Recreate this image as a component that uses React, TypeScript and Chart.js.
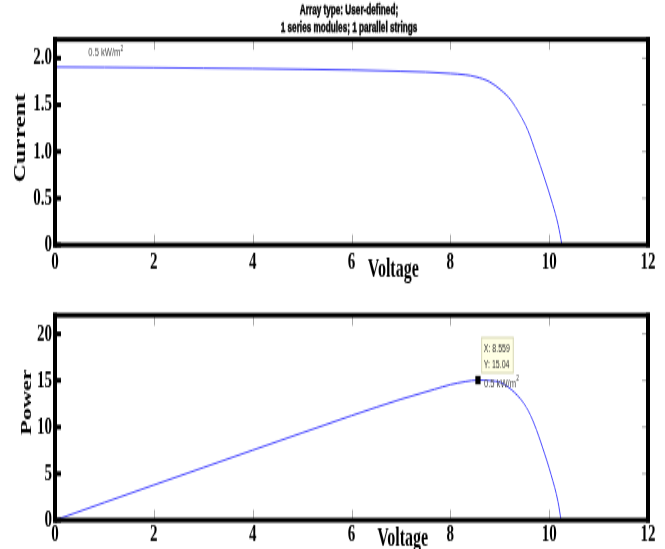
import React, { useEffect, useRef } from 'react';
import { Chart, registerables } from 'chart.js';

Chart.register(...registerables);

// ---------------- data ----------------
const titleLines = ['Array type: User-defined;', '1 series modules; 1 parallel strings'];
const xAxisTitle = 'Voltage';
const topYAxisTitle = 'Current';
const bottomYAxisTitle = 'Power';
const irradianceText = '0.5 kW/m';
const irradianceSup = '2';

const voltageTicks = [0, 2, 4, 6, 8, 10, 12];
const voltageTickLabels = ['0', '2', '4', '6', '8', '10', '12'];
const currentTicks = [0, 0.5, 1, 1.5, 2];
const currentTickLabels = ['0', '0.5', '1.0', '1.5', '2.0'];
const powerTicks = [0, 5, 10, 15, 20];
const powerTickLabels = ['0', '5', '10', '15', '20'];

const ivVoltage = [0, 1, 2, 3, 4, 5, 6, 7, 7.5, 8, 8.3, 8.52, 8.79, 9.03, 9.23, 9.4, 9.57, 9.74, 9.9, 10.07, 10.18, 10.26];
const ivCurrent = [1.905, 1.902, 1.898, 1.893, 1.888, 1.881, 1.873, 1.86, 1.851, 1.836, 1.822, 1.8, 1.748, 1.656, 1.548, 1.405, 1.226, 0.975, 0.724, 0.437, 0.22, 0];

const pvVoltage = [0, 1, 2, 3, 4, 5, 6, 7, 7.68, 8, 8.3, 8.559, 8.8, 9.03, 9.3, 9.54, 9.7, 9.87, 10.04, 10.18, 10.24];
const pvPower = [0, 1.9, 3.78, 5.65, 7.52, 9.38, 11.22, 12.98, 14.05, 14.55, 14.87, 15.04, 14.98, 14.75, 13.7, 12.1, 10.3, 7.75, 4.86, 1.96, 0];

const mppVoltage = [8.559];
const mppPower = [15.04];

// ---------------- layout / style ----------------
const W = 665;
const SY = 1.6; // vertical stretch of the picture
const TOP_H = 185;
const BOT_H = 158;
const BOT_CSS_TOP = 296;
const SERIF = '"Liberation Serif", "Times New Roman", serif';
const SANS = '"Liberation Sans", Arial, sans-serif';
const LINE_COLOR = '#4646ff';

function drawFrame(chart: any) {
  const { ctx, chartArea: a, scales } = chart;
  const xs = scales.x;
  const ys = scales.y;
  const vw = 4;
  const hw = 3;
  ctx.save();
  // grey inner ticks
  ctx.strokeStyle = '#a8a8a8';
  ctx.lineWidth = 1;
  xs.ticks.forEach((t: any) => {
    if (t.value <= xs.min || t.value >= xs.max) return;
    const px = Math.round(xs.getPixelForValue(t.value)) + 0.5;
    ctx.beginPath();
    ctx.moveTo(px, a.top);
    ctx.lineTo(px, a.top + 6.5);
    ctx.moveTo(px, a.bottom);
    ctx.lineTo(px, a.bottom - 6.5);
    ctx.stroke();
  });
  ys.ticks.forEach((t: any) => {
    if (t.value <= ys.min) return;
    const py = ys.getPixelForValue(t.value);
    ctx.beginPath();
    ctx.moveTo(a.right, py);
    ctx.lineTo(a.right - 6, py);
    ctx.stroke();
  });
  // frame
  ctx.fillStyle = '#000';
  ctx.fillRect(a.left - vw / 2, a.top - hw / 2, a.right - a.left + vw, hw);
  ctx.fillRect(a.left - vw / 2, a.bottom - hw / 2, a.right - a.left + vw, hw);
  ctx.fillRect(a.left - vw / 2, a.top - hw / 2, vw, a.bottom - a.top + hw);
  ctx.fillRect(a.right - vw / 2, a.top - hw / 2, vw, a.bottom - a.top + hw);
  // black stubs on the left axis
  ys.ticks.forEach((t: any) => {
    const py = ys.getPixelForValue(t.value);
    ctx.fillRect(a.left, py - 1.5, 6, 3);
  });
  ctx.restore();
}

function drawIrradiance(ctx: CanvasRenderingContext2D, x: number, y: number) {
  ctx.save();
  ctx.fillStyle = '#484848';
  ctx.textAlign = 'left';
  ctx.textBaseline = 'alphabetic';
  ctx.font = `7.6px ${SANS}`;
  ctx.fillText(irradianceText, x, y);
  const w = ctx.measureText(irradianceText).width;
  ctx.font = `5px ${SANS}`;
  ctx.fillText(irradianceSup, x + w + 0.2, y - 3.6);
  ctx.restore();
}

function drawRotated(ctx: CanvasRenderingContext2D, text: string, x: number, y: number, size: number) {
  ctx.save();
  ctx.translate(x, y);
  ctx.rotate(-Math.PI / 2);
  ctx.font = `bold ${size}px ${SERIF}`;
  ctx.fillStyle = '#000';
  ctx.textAlign = 'center';
  ctx.textBaseline = 'middle';
  ctx.fillText(text, 0, 0);
  ctx.restore();
}

function drawXTitle(ctx: CanvasRenderingContext2D, x: number, y: number) {
  ctx.save();
  ctx.font = `bold 16px ${SERIF}`;
  ctx.fillStyle = '#000';
  ctx.textAlign = 'left';
  ctx.textBaseline = 'alphabetic';
  ctx.fillText(xAxisTitle, x, y);
  ctx.restore();
}

const topDecor = {
  id: 'topDecor',
  afterDatasetsDraw(chart: any) {
    const { ctx, chartArea: a, scales } = chart;
    drawFrame(chart);
    // title (heavy, condensed look)
    ctx.save();
    ctx.font = `bold 8.2px ${SANS}`;
    ctx.fillStyle = '#000';
    ctx.strokeStyle = '#000';
    ctx.lineWidth = 0.35;
    ctx.textAlign = 'center';
    ctx.textBaseline = 'alphabetic';
    ctx.fillText(titleLines[0], 349, 9.2);
    ctx.strokeText(titleLines[0], 349, 9.2);
    ctx.fillText(titleLines[1], 349, 20.1);
    ctx.strokeText(titleLines[1], 349, 20.1);
    ctx.restore();
    drawRotated(ctx, topYAxisTitle, 21, 86.25, 16);
    drawXTitle(ctx, scales.x.getPixelForValue(6.33), a.bottom + 19.6);
    drawIrradiance(ctx, scales.x.getPixelForValue(0.674), scales.y.getPixelForValue(2.02));
  },
};

const bottomDecor = {
  id: 'bottomDecor',
  afterDatasetsDraw(chart: any) {
    const { ctx, chartArea: a, scales } = chart;
    drawFrame(chart);
    drawRotated(ctx, bottomYAxisTitle, 27.5, 66.25, 15);
    drawXTitle(ctx, scales.x.getPixelForValue(6.52), a.bottom + 15.6);
    drawIrradiance(ctx, scales.x.getPixelForValue(8.68), scales.y.getPixelForValue(14.25));
    // data tip
    const mx = scales.x.getPixelForValue(mppVoltage[0]);
    const my = scales.y.getPixelForValue(mppPower[0]);
    const bx = mx + 3.2;
    const by = my - 27;
    const bw = 32.6;
    const bh = 23;
    ctx.save();
    ctx.fillStyle = '#ffffe4';
    ctx.fillRect(bx, by, bw, bh);
    ctx.strokeStyle = '#d6d6b8';
    ctx.lineWidth = 1;
    ctx.strokeRect(bx + 0.5, by + 0.5, bw - 1, bh - 1);
    ctx.font = `7px ${SANS}`;
    ctx.fillStyle = '#303030';
    ctx.textAlign = 'left';
    ctx.textBaseline = 'alphabetic';
    ctx.fillText(`X: ${mppVoltage[0]}`, bx + 2.6, my - 17.7);
    ctx.fillText(`Y: ${mppPower[0]}`, bx + 2.6, my - 7.7);
    ctx.restore();
  },
};

function xScale(xHeight: number, pad: number) {
  return {
    type: 'linear',
    min: 0,
    max: 12,
    afterBuildTicks: (s: any) => {
      s.ticks = voltageTicks.map((v) => ({ value: v }));
    },
    afterFit: (s: any) => {
      s.height = xHeight;
    },
    ticks: {
      autoSkip: false,
      maxRotation: 0,
      minRotation: 0,
      padding: pad,
      color: '#000',
      font: { family: SERIF, size: 15, weight: 'bold' },
      callback: (_v: any, i: number) => voltageTickLabels[i],
    },
    grid: { display: false, drawTicks: false, drawOnChartArea: false },
    border: { display: false },
  };
}

function yScale(max: number, ticks: number[], labels: string[]) {
  return {
    type: 'linear',
    min: 0,
    max,
    afterBuildTicks: (s: any) => {
      s.ticks = ticks.map((v) => ({ value: v }));
    },
    afterFit: (s: any) => {
      s.width = 55;
    },
    ticks: {
      autoSkip: false,
      padding: 3,
      color: '#000',
      font: { family: SERIF, size: 15, weight: 'bold' },
      callback: (_v: any, i: number) => labels[i],
    },
    grid: { display: false, drawTicks: false, drawOnChartArea: false },
    border: { display: false },
  };
}

function baseOptions(padTop: number, xHeight: number, xPad: number, yMax: number, yT: number[], yL: string[]) {
  return {
    animation: false,
    responsive: false,
    devicePixelRatio: 1,
    events: [],
    layout: { padding: { top: padTop, right: 17, bottom: 0, left: 0 } },
    plugins: { legend: { display: false }, tooltip: { enabled: false }, title: { display: false } },
    scales: { x: xScale(xHeight, xPad), y: yScale(yMax, yT, yL) },
  } as any;
}

export default function App() {
  const topRef = useRef<HTMLCanvasElement>(null);
  const botRef = useRef<HTMLCanvasElement>(null);

  useEffect(() => {
    const c1 = new Chart(topRef.current as HTMLCanvasElement, {
      type: 'line',
      data: {
        datasets: [
          {
            data: ivVoltage.map((v, i) => ({ x: v, y: ivCurrent[i] })),
            borderColor: LINE_COLOR,
            borderWidth: 1,
            pointRadius: 0,
            fill: false,
            cubicInterpolationMode: 'monotone',
          },
        ],
      },
      options: baseOptions(24.6875, TOP_H - 153.125, 2, 2.2, currentTicks, currentTickLabels),
      plugins: [topDecor],
    } as any);

    const c2 = new Chart(botRef.current as HTMLCanvasElement, {
      type: 'line',
      data: {
        datasets: [
          {
            data: mppVoltage.map((v, i) => ({ x: v, y: mppPower[i] })),
            showLine: false,
            pointStyle: 'rect',
            pointRadius: 3.7,
            backgroundColor: '#000',
            borderColor: '#000',
            borderWidth: 0,
            order: 0,
          },
          {
            data: pvVoltage.map((v, i) => ({ x: v, y: pvPower[i] })),
            borderColor: LINE_COLOR,
            borderWidth: 1,
            pointRadius: 0,
            fill: false,
            cubicInterpolationMode: 'monotone',
            order: 1,
          },
        ],
      },
      options: baseOptions(11.875, BOT_H - 140, 0.5, 22, powerTicks, powerTickLabels),
      plugins: [bottomDecor],
    } as any);

    return () => {
      c1.destroy();
      c2.destroy();
    };
  }, []);

  return (
    <div style={{ position: 'absolute', left: 0, top: 0, width: W, height: 549, background: '#fff', overflow: 'hidden' }}>
      <canvas
        ref={topRef}
        width={W}
        height={TOP_H}
        style={{ position: 'absolute', left: 0, top: 0, width: `${W}px`, height: `${TOP_H * SY}px` }}
      />
      <canvas
        ref={botRef}
        width={W}
        height={BOT_H}
        style={{ position: 'absolute', left: 0, top: `${BOT_CSS_TOP}px`, width: `${W}px`, height: `${BOT_H * SY}px` }}
      />
    </div>
  );
}
